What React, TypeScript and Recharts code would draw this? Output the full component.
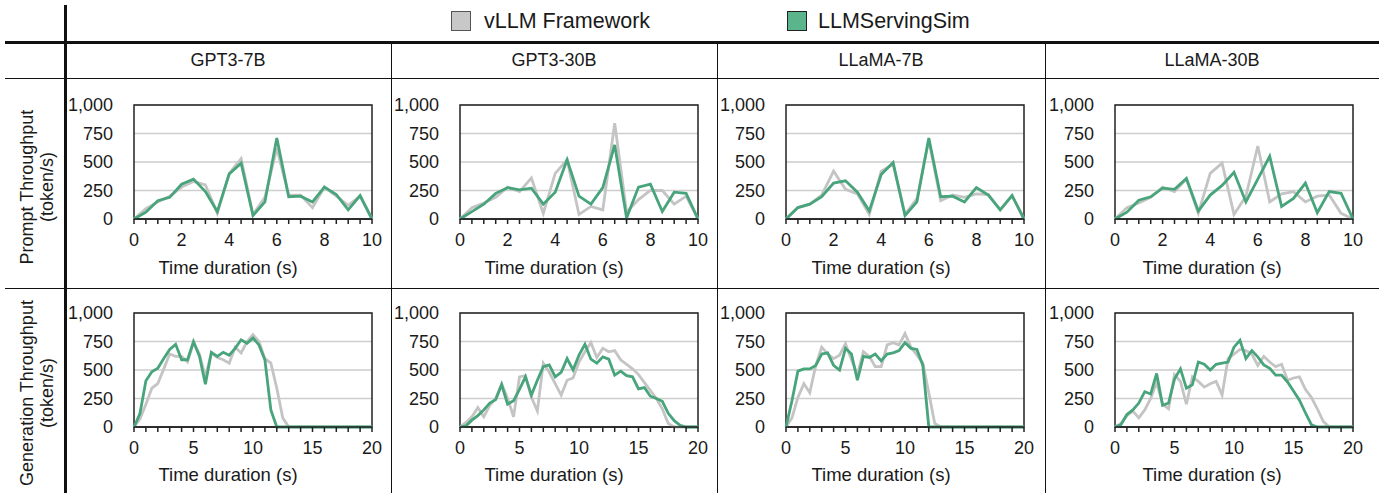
import React from 'react';
import { LineChart, Line, XAxis, YAxis, CartesianGrid, ReferenceArea } from 'recharts';

// time axes (s)
const timePrompt = [0, 0.5, 1, 1.5, 2, 2.5, 3, 3.5, 4, 4.5, 5, 5.5, 6, 6.5, 7, 7.5, 8, 8.5, 9, 9.5, 10];
const timeGen = [
  0, 0.5, 1, 1.5, 2, 2.5, 3, 3.5, 4, 4.5, 5, 5.5, 6, 6.5, 7, 7.5, 8, 8.5, 9, 9.5,
  10, 10.5, 11, 11.5, 12, 12.5, 13, 13.5, 14, 14.5, 15, 15.5, 16, 16.5, 17, 17.5, 18, 18.5, 19, 19.5, 20,
];

const promptTicks = [0, 0.5, 1, 1.5, 2, 2.5, 3, 3.5, 4, 4.5, 5, 5.5, 6, 6.5, 7, 7.5, 8, 8.5, 9, 9.5, 10];
const promptLabels = [0, 2, 4, 6, 8, 10];
const genTicks = [0, 1, 2, 3, 4, 5, 6, 7, 8, 9, 10, 11, 12, 13, 14, 15, 16, 17, 18, 19, 20];
const genLabels = [0, 5, 10, 15, 20];
const yTicks = [0, 250, 500, 750, 1000];

const models = ['GPT3-7B', 'GPT3-30B', 'LLaMA-7B', 'LLaMA-30B'];

// prompt throughput (token/s)
const promptVllm = [
  [0, 90, 150, 200, 280, 330, 300, 50, 400, 530, 40, 190, 620, 210, 210, 100, 280, 200, 120, 200, 0],
  [0, 100, 140, 190, 280, 240, 360, 50, 400, 520, 40, 110, 80, 840, 60, 170, 250, 250, 130, 200, 0],
  [0, 100, 130, 210, 420, 260, 220, 40, 420, 480, 40, 180, 690, 160, 210, 190, 220, 215, 80, 205, 0],
  [0, 100, 140, 190, 280, 240, 350, 50, 400, 490, 40, 200, 640, 150, 220, 240, 150, 200, 210, 50, 0],
];
const promptSim = [
  [0, 60, 160, 190, 305, 350, 240, 65, 395, 490, 30, 150, 710, 195, 200, 150, 280, 215, 80, 205, 0],
  [0, 65, 130, 225, 275, 255, 270, 130, 235, 520, 200, 130, 275, 650, 10, 280, 305, 65, 235, 225, 0],
  [0, 100, 130, 195, 315, 335, 235, 70, 390, 495, 30, 150, 710, 195, 200, 150, 275, 210, 80, 205, 0],
  [0, 60, 165, 195, 270, 260, 355, 70, 210, 295, 410, 150, 350, 550, 110, 180, 315, 55, 240, 225, 0],
];

// generation throughput (token/s)
const genVllm = [
  [0, 70, 200, 340, 380, 510, 640, 620, 620, 570, 740, 640, 440, 650, 610, 590, 560, 700, 650, 750,
    810, 750, 600, 560, 340, 80, 0, 0, 0, 0, 0, 0, 0, 0, 0, 0, 0, 0, 0, 0, 0],
  [0, 40, 90, 170, 90, 190, 250, 380, 250, 90, 440, 450, 260, 140, 560, 480, 380, 280, 410, 430,
    570, 660, 740, 610, 690, 660, 670, 590, 550, 510, 460, 390, 320, 250, 160, 30, 0, 0, 0, 0, 0],
  [0, 80, 260, 380, 300, 540, 700, 640, 600, 630, 730, 590, 460, 660, 620, 530, 530, 720, 740, 720,
    820, 700, 630, 560, 300, 30, 0, 0, 0, 0, 0, 0, 0, 0, 0, 0, 0, 0, 0, 0, 0],
  [0, 30, 100, 140, 80, 150, 250, 390, 200, 160, 460, 400, 200, 440, 400, 350, 380, 400, 280, 600,
    640, 680, 670, 640, 540, 620, 570, 530, 550, 410, 430, 440, 330, 260, 160, 50, 0, 0, 0, 0, 0],
];
const genSim = [
  [0, 118, 405, 485, 515, 600, 680, 725, 590, 590, 750, 620, 375, 655, 620, 655, 630, 690, 765, 735,
    780, 720, 590, 150, 0, 0, 0, 0, 0, 0, 0, 0, 0, 0, 0, 0, 0, 0, 0, 0, 0],
  [0, 10, 60, 100, 150, 210, 240, 370, 200, 230, 330, 440, 280, 410, 530, 545, 440, 480, 600, 500,
    630, 725, 595, 560, 615, 595, 455, 490, 450, 440, 335, 345, 270, 250, 225, 120, 55, 15, 0, 0, 0],
  [0, 230, 490, 510, 510, 540, 640, 650, 540, 500, 690, 640, 410, 620, 610, 640, 580, 640, 650, 670,
    740, 690, 680, 540, 0, 0, 0, 0, 0, 0, 0, 0, 0, 0, 0, 0, 0, 0, 0, 0, 0],
  [0, 20, 110, 150, 210, 310, 290, 470, 190, 210, 420, 510, 340, 370, 570, 550, 500, 550, 560, 570,
    700, 760, 600, 670, 615, 545, 515, 455, 455, 395, 315, 235, 125, 20, 0, 0, 0, 0, 0, 0, 0],
];

const GREEN = '#47a47b';
const GRAY = '#c4c4c4';
const INK = '#1a1a1a';
const FONT = '"Liberation Sans", Arial, Helvetica, sans-serif';

const colEdges = [65, 391, 717, 1045, 1379];
const plotLefts = [134, 460, 786, 1115];
const rowTops = [105, 313];
const titleY = [268, 475];

const XTick = (props: any) => {
  const { x, y, payload, labels } = props;
  if (!labels.includes(payload.value)) return <g />;
  return (
    <text x={x} y={y} dy="0.71em" textAnchor="middle" fontSize={18} fill={INK}>
      {payload.value}
    </text>
  );
};

function Panel(props: {
  left: number;
  top: number;
  time: number[];
  vllm: number[];
  sim: number[];
  ticks: number[];
  labels: number[];
  xMax: number;
}) {
  const { left, top, time, vllm, sim, ticks, labels, xMax } = props;
  const data = time.map((t, i) => ({ t, vllm: vllm[i], sim: sim[i] }));
  return (
    <div style={{ position: 'absolute', left: left - 72, top: top - 12 }}>
      <LineChart width={330} height={161} data={data} margin={{ top: 12, right: 20, bottom: 0, left: 0 }}>
        <CartesianGrid vertical={false} stroke="#cdcdcd" strokeWidth={1.5} />
        <XAxis
          dataKey="t"
          type="number"
          domain={[0, xMax]}
          ticks={ticks}
          interval={0}
          height={35}
          stroke="#222"
          strokeWidth={1.5}
          tickSize={5}
          tickMargin={9}
          tick={<XTick labels={labels} />}
        />
        <YAxis
          domain={[0, 1000]}
          ticks={yTicks}
          width={72}
          axisLine={false}
          tickLine={false}
          tickSize={0}
          tickMargin={21}
          tick={{ fontSize: 18, fill: INK }}
          tickFormatter={(v: number) => v.toLocaleString('en-US')}
        />
        <Line dataKey="vllm" stroke={GRAY} strokeWidth={2.8} dot={false} isAnimationActive={false} />
        <Line dataKey="sim" stroke={GREEN} strokeWidth={2.8} dot={false} isAnimationActive={false} />
        <ReferenceArea x1={0} x2={xMax} y1={0} y2={1000} fill="none" stroke="#222" strokeWidth={1.5} />
      </LineChart>
    </div>
  );
}

const line = (style: React.CSSProperties) => (
  <div style={{ position: 'absolute', background: '#111', ...style }} />
);

export default function App() {
  return (
    <div
      style={{
        position: 'absolute',
        left: 0,
        top: 0,
        width: 1379,
        height: 493,
        background: '#fff',
        fontFamily: FONT,
        color: INK,
        overflow: 'hidden',
      }}
    >
      {/* table rules */}
      {line({ left: 64, top: 5, width: 2.5, height: 488 })}
      {line({ left: 5, top: 41, width: 1374, height: 2.5 })}
      {line({ left: 5, top: 78, width: 1374, height: 1 })}
      {line({ left: 5, top: 288, width: 1374, height: 1 })}
      {colEdges.slice(1, 4).map((x) => (
        <React.Fragment key={x}>{line({ left: x, top: 42, width: 1, height: 451 })}</React.Fragment>
      ))}

      {/* legend */}
      <div style={{ position: 'absolute', left: 451, top: 11, width: 20, height: 20, background: '#c8c8c8', border: '1px solid #555', boxSizing: 'border-box' }} />
      <div style={{ position: 'absolute', left: 484, top: 8, fontSize: 21.5, lineHeight: '26px' }}>vLLM Framework</div>
      <div style={{ position: 'absolute', left: 787, top: 11, width: 20, height: 20, background: '#5ab48c', border: '1px solid #222', boxSizing: 'border-box' }} />
      <div style={{ position: 'absolute', left: 818, top: 8, fontSize: 21.5, lineHeight: '26px' }}>LLMServingSim</div>

      {/* column headers */}
      {models.map((m, i) => (
        <div
          key={m}
          style={{
            position: 'absolute',
            left: colEdges[i],
            width: colEdges[i + 1] - colEdges[i],
            top: 49,
            lineHeight: '22px',
            fontSize: 18,
            textAlign: 'center',
          }}
        >
          {m}
        </div>
      ))}

      {/* row labels */}
      {[
        ['Prompt Throughput', 187],
        ['Generation Throughput', 393],
      ].map(([label, cy]) => (
        <div
          key={label as string}
          style={{
            position: 'absolute',
            left: 37 - 120,
            top: (cy as number) - 20,
            width: 240,
            height: 40,
            lineHeight: '20px',
            fontSize: 18,
            textAlign: 'center',
            transform: 'rotate(-90deg)',
          }}
        >
          {label}
          <br />
          (token/s)
        </div>
      ))}

      {/* panels */}
      {models.map((m, i) => (
        <React.Fragment key={m}>
          <Panel
            left={plotLefts[i]}
            top={rowTops[0]}
            time={timePrompt}
            vllm={promptVllm[i]}
            sim={promptSim[i]}
            ticks={promptTicks}
            labels={promptLabels}
            xMax={10}
          />
          <Panel
            left={plotLefts[i]}
            top={rowTops[1]}
            time={timeGen}
            vllm={genVllm[i]}
            sim={genSim[i]}
            ticks={genTicks}
            labels={genLabels}
            xMax={20}
          />
          {titleY.map((y) => (
            <div
              key={y}
              style={{
                position: 'absolute',
                left: colEdges[i],
                width: colEdges[i + 1] - colEdges[i],
                top: y - 11,
                lineHeight: '22px',
                fontSize: 18.5,
                textAlign: 'center',
              }}
            >
              Time duration (s)
            </div>
          ))}
        </React.Fragment>
      ))}
    </div>
  );
}
